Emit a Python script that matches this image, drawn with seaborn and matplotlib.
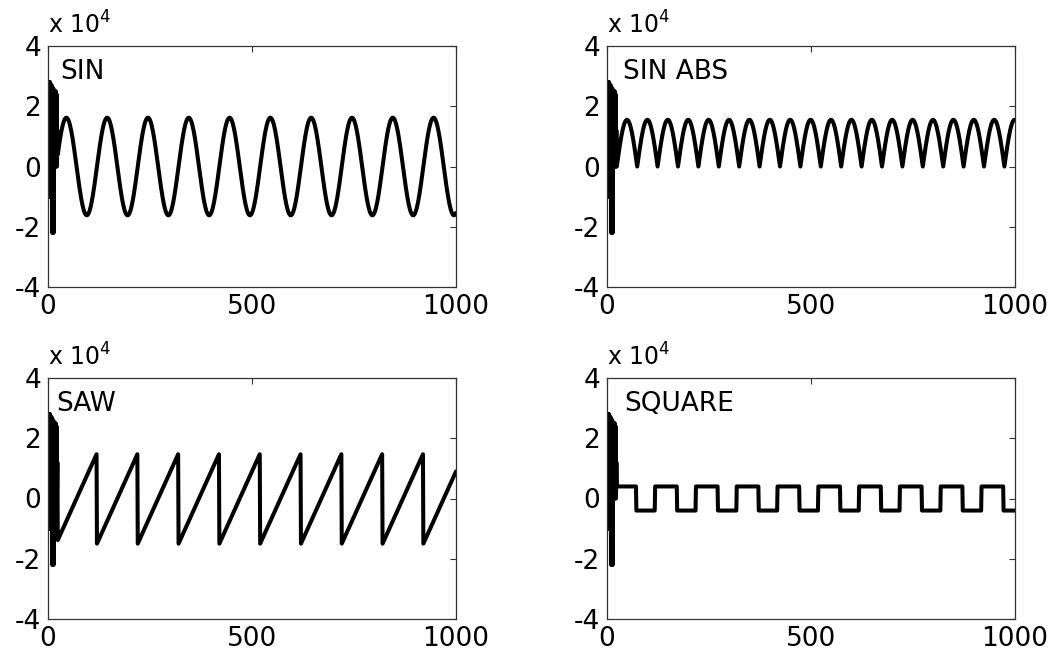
import numpy as np
import pandas as pd
import matplotlib
matplotlib.use("Agg")
import matplotlib.pyplot as plt
import seaborn as sns

# ---------------- data (values in units of 1e4) ----------------
N_SAMPLES = 1001
SCALE = 1e4

# start-up transient common to all four channels (x = 0 .. 23)
transient = [0.0, 2.8, -1.0, 2.8, -1.0, 2.8, -1.0, 2.7, -1.0, 2.7, -2.2, 2.6,
             -2.2, 2.6, -2.2, 2.5, 0.0, 2.5, 0.0, 2.5, 0.0, 2.4, 0.0, 1.2]

titles = ["SIN", "SIN ABS", "SAW", "SQUARE"]

# steady-state waveform parameters
sin_amp, sin_period, sin_phase = 1.62, 100, 20        # peaks at 45 + 100k
abs_amp, abs_period, abs_phase = 1.55, 100, 24        # zeros at 24 + 50k
saw_low, saw_high, saw_period, saw_phase = -1.5, 1.5, 100, 20   # drops at 120 + 100k
sq_high, sq_low, sq_period, sq_fall, sq_low_len = 0.4, -0.4, 100, 72, 46

x_ticks = [0, 500, 1000]
y_ticks = [-4, -2, 0, 2, 4]
title_x = [0.03, 0.04, 0.02, 0.042]

# ---------------- build series ----------------
x = np.arange(N_SAMPLES)
n_tr = len(transient)

def with_transient(steady):
    y = np.array(steady, dtype=float)
    y[:n_tr] = transient
    return y * SCALE

sig_sin = with_transient(sin_amp * np.sin(2 * np.pi * (x - sin_phase) / sin_period))
sig_abs = with_transient(abs_amp * np.abs(np.sin(2 * np.pi * (x - abs_phase) / abs_period)))
sig_saw = with_transient(saw_low + (saw_high - saw_low) * ((x - saw_phase) % saw_period) / saw_period)
sig_sq = with_transient(np.where((x - sq_fall) % sq_period < sq_low_len, sq_low, sq_high))

signals = [sig_sin, sig_abs, sig_saw, sig_sq]

# ---------------- plot ----------------
sns.set_style("white")
plt.rcParams["font.family"] = ["DejaVu Sans"]
plt.rcParams["text.color"] = "black"
plt.rcParams["xtick.color"] = "black"
plt.rcParams["ytick.color"] = "black"

fig = plt.figure(figsize=(10.6, 6.54), dpi=100)
lefts = [48 / 1060, 607 / 1060]
width = 408 / 1060
bottoms = [1 - 287 / 654, 1 - 619 / 654]
height = 241 / 654

spine_col = "#333333"
for i, (sig, title) in enumerate(zip(signals, titles)):
    row, col = divmod(i, 2)
    ax = fig.add_axes([lefts[col], bottoms[row], width, height])
    df = pd.DataFrame({"x": x, "y": sig})
    sns.lineplot(data=df, x="x", y="y", ax=ax, color="black", linewidth=2.9,
                 estimator=None, sort=False, solid_joinstyle="round", solid_capstyle="round")
    ax.set_xlim(0, 1000)
    ax.set_ylim(-4 * SCALE, 4 * SCALE)
    ax.set_xticks(x_ticks)
    ax.set_xticklabels([str(t) for t in x_ticks])
    ax.set_yticks([t * SCALE for t in y_ticks])
    ax.set_yticklabels([str(t) for t in y_ticks])
    ax.set_xlabel("")
    ax.set_ylabel("")
    ax.tick_params(direction="in", length=4, width=0.8, color=spine_col,
                   labelcolor="black", top=True, right=True, labelsize=19, pad=5)
    for s in ax.spines.values():
        s.set_color(spine_col)
        s.set_linewidth(0.9)
    ax.text(title_x[i], 0.863, title, transform=ax.transAxes, fontsize=19,
            color="black", ha="left", va="baseline")
    ax.text(0.0, 1.05, r"x 10$^{\mathregular{4}}$", transform=ax.transAxes,
            fontsize=17, color="black", ha="left", va="baseline")

fig.savefig("out.png", dpi=100, facecolor="white")
